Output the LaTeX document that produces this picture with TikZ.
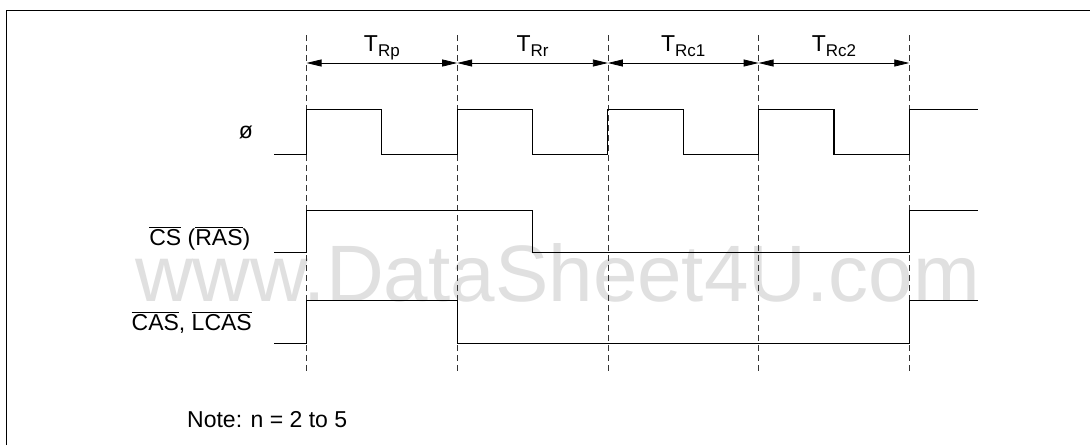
\documentclass[tikz,border=0pt]{standalone}
\usepackage{fontspec}
\setmainfont{Liberation Sans}
\usetikzlibrary{arrows.meta}
\newcommand\tsub[1]{\raisebox{-5pt}{\fontsize{17}{17}\selectfont #1}}
\newcommand\ovl[1]{$\overline{\mbox{#1}}$}
\begin{document}
\begin{tikzpicture}[x=1pt,y=-1pt,
  sig/.style={line width=1.1pt, line join=miter},
  guide/.style={line width=0.8pt, dash pattern=on 6pt off 4pt, black!80},
  dim/.style={line width=0.8pt, {Triangle[length=15pt,width=7pt]}-{Triangle[length=15pt,width=7pt]}},
  lab/.style={font=\fontsize{23}{26}\selectfont, inner sep=0pt},
  wm/.style={font=\fontsize{80}{80}\selectfont, text=black!12, inner sep=0pt}]
\useasboundingbox (0,0) rectangle (1090,445);
\fill[white] (0,0) rectangle (1090,445);
% watermark
\node[wm, anchor=base] (wm) at (557.5,301) {www.DataSheet4U.com};
% frame
\draw[line width=1pt] (6.3,445) -- (6.3,10.3) -- (1090,10.3);
% guide coordinates
\foreach \i/\x in {0/306.5,1/457.2,2/607.9,3/758.6,4/909.3} {
  \coordinate (g\i t) at (\x,35);
  \coordinate (g\i b) at (\x,372);
  \coordinate (g\i a) at (\x,63);
}
\foreach \i in {0,...,4} \draw[guide] (g\i t) -- (g\i b);
% dimension arrows
\draw[dim] (g0a) -- (g1a);
\draw[dim] (g1a) -- (g2a);
\draw[dim] (g2a) -- (g3a);
\draw[dim] (g3a) -- (g4a);
\node[lab, anchor=base] (tRp) at (381.85,51) {T\tsub{Rp}};
\node[lab, anchor=base] (tRr) at (532.55,51) {T\tsub{Rr}};
\node[lab, anchor=base] (tRc1) at (683.25,51) {T\tsub{Rc1}};
\node[lab, anchor=base] (tRc2) at (833.95,51) {T\tsub{Rc2}};
% signals
\draw[sig] (274,154.3) -- (306.5,154.3) -- (306.5,109.3) -- (381.85,109.3) -- (381.85,154.3)
  -- (457.2,154.3) -- (457.2,109.3) -- (532.55,109.3) -- (532.55,154.3)
  -- (607.9,154.3) -- (607.9,109.3) -- (683.25,109.3) -- (683.25,154.3)
  -- (758.6,154.3) -- (758.6,109.3) -- (833.95,109.3) -- (833.95,154.3)
  -- (909.3,154.3) -- (909.3,109.3) -- (977.7,109.3);
\draw[sig] (274,252.7) -- (306.5,252.7) -- (306.5,210.7) -- (532.55,210.7) -- (532.55,252.7)
  -- (909.3,252.7) -- (909.3,210.7) -- (977.7,210.7);
\draw[sig] (274,343.3) -- (306.5,343.3) -- (306.5,300.5) -- (457.2,300.5) -- (457.2,343.3)
  -- (909.3,343.3) -- (909.3,300.5) -- (977.7,300.5);
% labels
\node[lab, anchor=base] (phi) at (246,138) {ø};
\node[lab, anchor=base east] (cs) at (250.5,245) {\ovl{CS} (\ovl{RAS})};
\node[lab, anchor=base east] (cas) at (252,330) {\ovl{CAS}, \ovl{LCAS}};
\node[lab, anchor=base west] (note) at (187,427) {Note: n = 2 to 5};
\end{tikzpicture}
\end{document}
